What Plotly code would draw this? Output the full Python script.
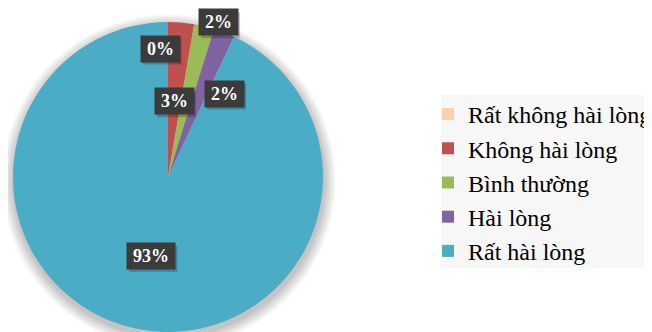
import math
import plotly.graph_objects as go

# ---- data ----
labels = ["Rất không hài lòng", "Không hài lòng", "Bình thường", "Hài lòng", "Rất hài lòng"]
values = [0, 2.7, 2.1, 2.2, 93.0]
label_texts = ["0%", "3%", "2%", "2%", "93%"]

# ---- style ----
colors = ["#FBD0AE", "#C0504D", "#9BBB59", "#8064A2", "#4BACC6"]
OFF = 8                      # default page margin of the html body
W, H = 652 - OFF, 332 - OFF  # visible part of the figure
CX, CY, R = 168 - OFF, 177 - OFF, 155
# label placement relative to slice mid-angle (degrees nudge, radius fraction)
ang_nudge = [-3.5, 0.0, 4.6, 12.9, -0.7]
rad_frac = [0.83, 0.49, 1.05, 0.65, 0.52]

fig = go.Figure()
fig.add_trace(go.Pie(
    labels=labels, values=values, sort=False, direction="clockwise", rotation=0,
    marker=dict(colors=colors, line=dict(width=0)),
    textinfo="none", hoverinfo="label+percent",
    domain=dict(x=[(CX - R) / W, (CX + R) / W], y=[max(0, 1 - (CY + R) / H), 1 - (CY - R) / H]),
))

# soft shadow around the pie
shapes = []
for i in range(12, 0, -1):
    rr = R + i * 1.0
    shapes.append(dict(type="circle", xref="paper", yref="paper", layer="below",
                       x0=(CX - rr + 1) / W, x1=(CX + rr + 1) / W,
                       y0=1 - (CY + rr + 4) / H, y1=1 - (CY - rr + 4) / H,
                       fillcolor="rgba(0,0,0,0.018)", line=dict(width=0)))
# legend background panel
shapes.append(dict(type="rect", xref="paper", yref="paper", layer="below",
                   x0=(441 - OFF) / W, x1=1.0, y0=1 - (268 - OFF) / H, y1=1 - (95 - OFF) / H,
                   fillcolor="#F7F7F7", line=dict(width=0)))

total = sum(values)
annotations = []
cum = 0
for v, t, dn, rf in zip(values, label_texts, ang_nudge, rad_frac):
    mid = (cum + v / 2) / total * 360 + dn
    cum += v
    a = math.radians(mid)
    px = CX + R * rf * math.sin(a)
    py = CY - R * rf * math.cos(a)
    w = 9 * len(t) + 15
    # drop shadow of the label box (a plain shape, no text)
    shapes.append(dict(type="rect", xref="paper", yref="paper", layer="above",
                       x0=(px - (w + 6) / 2 + 2) / W, x1=(px + (w + 6) / 2 + 2) / W,
                       y0=1 - (py + 13 + 3) / H, y1=1 - (py - 13 + 3) / H,
                       fillcolor="rgba(0,0,0,0.22)", line=dict(width=0)))
    annotations.append(dict(x=px / W, y=1 - py / H, xref="paper", yref="paper",
                            xanchor="center", yanchor="middle", showarrow=False,
                            borderpad=3, width=w, height=20,
                            text="<b>" + t + "</b>",
                            font=dict(family="Liberation Serif", size=18, color="white"),
                            bgcolor="#3B3B3B"))

fig.update_layout(
    width=W, height=H,
    margin=dict(l=0, r=0, t=0, b=0, autoexpand=False),
    paper_bgcolor="white", plot_bgcolor="white",
    shapes=shapes, annotations=annotations,
    showlegend=True,
    legend=dict(x=(428 - OFF) / W, xanchor="left", y=1 - (182.5 - OFF) / H, yanchor="middle",
                bgcolor="rgba(0,0,0,0)", font=dict(family="Liberation Serif", size=24, color="black"),
                traceorder="normal", itemclick=False, tracegroupgap=0),
)

fig.write_html("out.html")
